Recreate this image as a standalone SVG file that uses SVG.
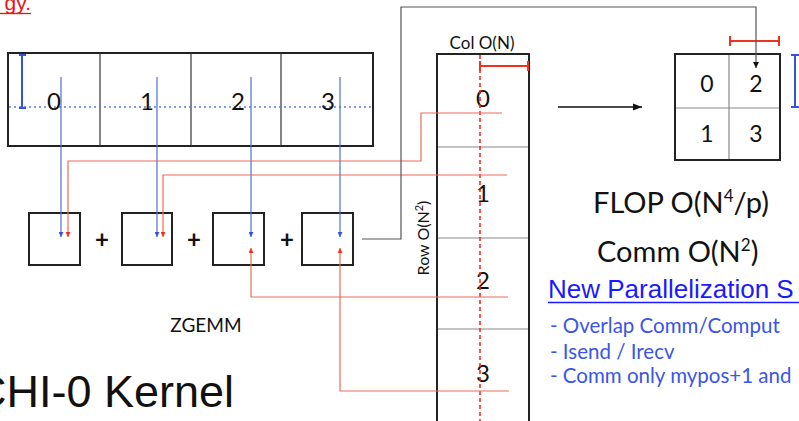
<svg xmlns="http://www.w3.org/2000/svg" width="799" height="421" viewBox="0 0 799 421">
<style>
.box{fill:#fff;stroke:#222;stroke-width:2}
.div{stroke:#333;stroke-width:1.2}
.gdiv{stroke:#888;stroke-width:1.2}
.gs{font-family:Lato,"Open Sans",sans-serif;fill:#111}
.blue{stroke:#4a6fd8;stroke-width:1.2;fill:none}
.red{stroke:#f06a5a;stroke-width:1.2;fill:none}
.gray{stroke:#555;stroke-width:1.2;fill:none}
.br{stroke:#ee3322;stroke-width:2;fill:none}
.bb{stroke:#3355dd;stroke-width:2;fill:none}
.note{font-family:Lato,"Open Sans",sans-serif;fill:#3a55e8;font-size:20.5px}
</style>
<defs>
<marker id="mb" viewBox="0 0 10 10" refX="10" refY="5" markerWidth="5" markerHeight="5" orient="auto" markerUnits="userSpaceOnUse"><path d="M0,0L10,5L0,10z" fill="#3355dd"/></marker>
<marker id="mr" viewBox="0 0 10 10" refX="10" refY="5" markerWidth="5" markerHeight="5" orient="auto" markerUnits="userSpaceOnUse"><path d="M0,0L10,5L0,10z" fill="#ee3322"/></marker>
<marker id="mk" viewBox="0 0 10 10" refX="10" refY="5" markerWidth="6" markerHeight="6" orient="auto" markerUnits="userSpaceOnUse"><path d="M0,0L10,5L0,10z" fill="#111"/></marker>
<marker id="mk2" viewBox="0 0 10 10" refX="10" refY="5" markerWidth="9" markerHeight="9" orient="auto" markerUnits="userSpaceOnUse"><path d="M0,1L10,5L0,9z" fill="#111"/></marker>
</defs>

<g id="title-fragment">
<text x="31" y="10" text-anchor="end" font-family="'Liberation Sans',Arial,sans-serif" font-size="21" fill="#ee1111">gy.</text>
<line x1="0" y1="13.5" x2="31" y2="13.5" stroke="#ee1111" stroke-width="1.3"/>
</g>

<g id="top-table">
<rect class="box" x="8" y="53" width="365" height="93"/>
<line class="div" x1="100" y1="53" x2="100" y2="146"/>
<line class="div" x1="191" y1="53" x2="191" y2="146"/>
<line class="div" x1="281" y1="53" x2="281" y2="146"/>
<line x1="9" y1="107" x2="373" y2="107" stroke="#5b7fe0" stroke-width="1.5" stroke-dasharray="2 3"/>
<path class="bb" d="M22,55V108M19,55H26M19,108H26"/>
<text class="gs" font-size="24" text-anchor="middle" x="54" y="110">0</text>
<text class="gs" font-size="24" text-anchor="middle" x="147" y="110">1</text>
<text class="gs" font-size="24" text-anchor="middle" x="238" y="110">2</text>
<text class="gs" font-size="24" text-anchor="middle" x="328" y="110">3</text>
</g>

<g id="zgemm-boxes">
<rect class="box" x="29" y="213" width="51" height="52"/>
<rect class="box" x="122" y="213" width="50" height="52"/>
<rect class="box" x="213" y="213" width="51" height="52"/>
<rect class="box" x="302" y="213" width="51" height="52"/>
<text class="gs" font-size="24" font-weight="bold" text-anchor="middle" x="102" y="248">+</text>
<text class="gs" font-size="24" font-weight="bold" text-anchor="middle" x="194" y="248">+</text>
<text class="gs" font-size="24" font-weight="bold" text-anchor="middle" x="287" y="248">+</text>
<text class="gs" font-size="19" text-anchor="middle" x="206" y="332">ZGEMM</text>
</g>

<g id="column-block">
<rect class="box" x="437" y="54" width="92" height="372"/>
<line class="gdiv" x1="438" y1="147" x2="528" y2="147"/>
<line class="gdiv" x1="438" y1="238" x2="528" y2="238"/>
<line class="gdiv" x1="438" y1="329" x2="528" y2="329"/>
<text class="gs" font-size="17" text-anchor="middle" x="482" y="49">Col O(N)</text>
<text class="gs" font-size="16" text-anchor="middle" transform="translate(429,238) rotate(-90)">Row O(N<tspan font-size="11" dy="-6">2</tspan><tspan dy="6">)</tspan></text>
<text class="gs" font-size="24" text-anchor="middle" x="483" y="107">0</text>
<text class="gs" font-size="24" text-anchor="middle" x="483" y="202">1</text>
<text class="gs" font-size="24" text-anchor="middle" x="483" y="289">2</text>
<text class="gs" font-size="24" text-anchor="middle" x="483" y="382">3</text>
<line x1="480" y1="55" x2="480" y2="421" stroke="#ee2211" stroke-width="1.5" stroke-dasharray="4 3"/>
<path class="br" d="M480,66H528M480,61V71M528,61V71"/>
</g>

<g id="result-grid">
<rect class="box" x="675" y="54" width="105" height="106"/>
<line class="gdiv" x1="729" y1="55" x2="729" y2="159"/>
<line class="gdiv" x1="676" y1="108" x2="779" y2="108"/>
<text class="gs" font-size="23" text-anchor="middle" x="707" y="92">0</text>
<text class="gs" font-size="23" text-anchor="middle" x="756" y="92">2</text>
<text class="gs" font-size="23" text-anchor="middle" x="707" y="142">1</text>
<text class="gs" font-size="23" text-anchor="middle" x="756" y="142">3</text>
<path class="br" d="M730,41H779M730,36V46M779,36V46"/>
<path class="bb" d="M795,55V107M791,55H799M791,107H799"/>
</g>

<g id="connectors">
<line class="blue" x1="61" y1="77" x2="61" y2="237" marker-end="url(#mb)"/>
<line class="blue" x1="157" y1="77" x2="157" y2="237" marker-end="url(#mb)"/>
<line class="blue" x1="251" y1="77" x2="251" y2="237" marker-end="url(#mb)"/>
<line class="blue" x1="340" y1="77" x2="340" y2="237" marker-end="url(#mb)"/>
<path class="red" d="M502,113H421V161H68V237" marker-end="url(#mr)"/>
<path class="red" d="M507,175H163V237" marker-end="url(#mr)"/>
<path class="red" d="M508,297H251V248" marker-end="url(#mr)"/>
<path class="red" d="M509,391H340V248" marker-end="url(#mr)"/>
<path class="gray" d="M362,239H401V7H756V68" marker-end="url(#mk)"/>
<line x1="558" y1="107" x2="642" y2="107" stroke="#111" stroke-width="1.5" marker-end="url(#mk2)"/>
</g>

<g id="notes">
<text class="gs" font-size="29" x="593" y="213">FLOP O(N<tspan font-size="17" dy="-11">4</tspan><tspan dy="11">/p)</tspan></text>
<text class="gs" font-size="29" x="597" y="262">Comm O(N<tspan font-size="17" dy="-11">2</tspan><tspan dy="11">)</tspan></text>
<text x="548" y="298" font-family="'Liberation Sans',Arial,sans-serif" font-size="26" fill="#1a1aff">New Parallelization S</text>
<line x1="548" y1="302.5" x2="799" y2="302.5" stroke="#1a1aff" stroke-width="1.6"/>
<text class="note" x="550" y="333">- Overlap Comm/Comput</text>
<text class="note" x="550" y="359">- Isend / Irecv</text>
<text class="note" x="550" y="383">- Comm only mypos+1 and</text>
<text x="234" y="407" text-anchor="end" font-family="'Liberation Sans',Arial,sans-serif" font-size="45" fill="#111">CHI-0 Kernel</text>
</g>
</svg>
